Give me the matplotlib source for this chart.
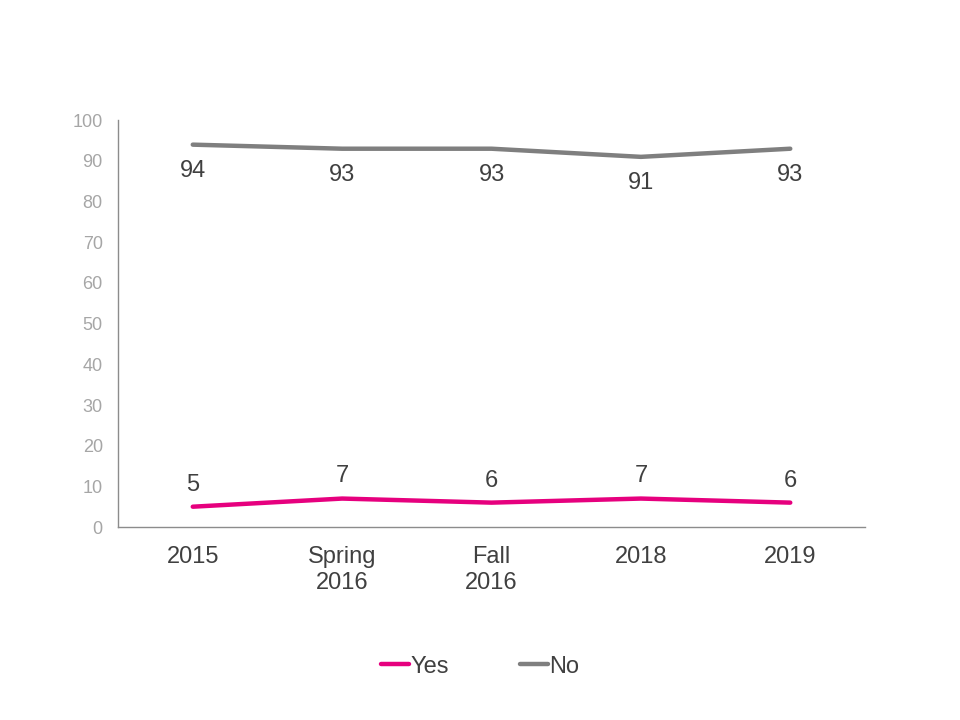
import matplotlib.pyplot as plt

plt.rcParams['font.family'] = ['Liberation Sans', 'DejaVu Sans']

categories = ['2015', 'Spring\n2016', 'Fall\n2016', '2018', '2019']
yes_values = [5, 7, 6, 7, 6]
no_values = [94, 93, 93, 91, 93]

yes_color = '#E6007E'
no_color = '#7F7F7F'
label_color = '#404040'

fig = plt.figure(figsize=(9.6, 7.2), dpi=100)
ax = fig.add_axes([0.123, 0.268, 0.778, 0.565])

x = range(len(categories))
ax.plot(x, yes_values, color=yes_color, lw=3.2, label='Yes', solid_capstyle='round')
ax.plot(x, no_values, color=no_color, lw=3.2, label='No', solid_capstyle='round')

for i, v in enumerate(yes_values):
    ax.annotate(str(v), (i, v), xytext=(0, 8), textcoords='offset points',
                ha='center', va='bottom', fontsize=17, color=label_color)
for i, v in enumerate(no_values):
    ax.annotate(str(v), (i, v), xytext=(0, -11), textcoords='offset points',
                ha='center', va='top', fontsize=17, color=label_color)

ax.set_xlim(-0.5, len(categories) - 0.5)
ax.set_ylim(0, 100)
ax.set_yticks(range(0, 101, 10))
ax.set_xticks(list(x))
ax.set_xticklabels(categories, fontsize=17, color=label_color, linespacing=1.2)
ax.tick_params(axis='y', length=0, labelsize=13, labelcolor='#A6A6A6', pad=11)
ax.tick_params(axis='x', length=0, pad=14)

for s in ['top', 'right']:
    ax.spines[s].set_visible(False)
for s in ['left', 'bottom']:
    ax.spines[s].set_color('#8C8C8C')
    ax.spines[s].set_linewidth(1)

fig.legend(loc='center', bbox_to_anchor=(0.5, 0.074), ncol=2, frameon=False,
           fontsize=17, handlelength=1.2, handletextpad=0.05, columnspacing=3.0,
           labelcolor=label_color)

fig.savefig('out.png', dpi=100)
